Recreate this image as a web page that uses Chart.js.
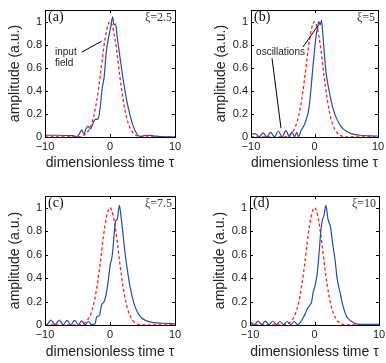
<!DOCTYPE html>
<html><head><meta charset="utf-8">
<script src="https://cdn.jsdelivr.net/npm/chart.js@4"></script>
<style>
html,body{margin:0;padding:0;background:#fff;overflow:hidden;width:386px;height:363px;position:relative;}
canvas{position:absolute;}
</style></head><body>
<canvas id="ca"></canvas><canvas id="cb"></canvas><canvas id="cc"></canvas><canvas id="cd"></canvas>
<script>
// ---- data ----
const xTicks = [-10, 0, 10];
const yTicks = [0, 0.2, 0.4, 0.6, 0.8, 1];
const xTitle = 'dimensionless time \u03c4';
const yTitle = 'amplitude (a.u.)';
const panelLabels = ['(a)', '(b)', '(c)', '(d)'];
const xiLabels = ['\u03be=2.5', '\u03be=5', '\u03be=7.5', '\u03be=10'];

// input field (red dashed), same in every panel
const inputX = [-10,-6,-5,-4.5,-4,-3.5,-3,-2.5,-2,-1.5,-1,-0.5,0,0.5,1,1.5,2,2.5,3,3.5,4,4.5,5,6,10];
const inputY = [0,0,0,0.004,0.015,0.04,0.09,0.18,0.33,0.53,0.76,0.93,1,0.93,0.76,0.53,0.33,0.18,0.09,0.04,0.015,0.004,0,0,0];

// output field (blue), xi = 2.5
const outAX = [-10,-8,-6,-5.5,-5.1,-4.7,-4.35,-4.0,-3.7,-3.4,-3.0,-2.6,-2.3,-1.8,-1.5,-1.2,-0.9,-0.6,-0.26,0.1,0.41,0.6,0.86,1.1,1.54,2.05,2.56,3.08,3.6,4.1,4.6,5.6,6.7,7.7,10];
const outAY = [0.015,0.015,0.012,0.01,0.0,0.03,0.06,0.025,0.07,0.095,0.07,0.12,0.15,0.16,0.26,0.42,0.52,0.72,0.85,0.95,1.04,0.97,0.98,0.87,0.69,0.49,0.32,0.19,0.09,0.03,0.005,0.015,0.01,0.003,0];
// xi = 5
const outBX = [-10,-9.35,-8.7,-8.1,-7.5,-6.9,-6.3,-5.7,-5.1,-4.5,-3.95,-3.55,-3.15,-2.8,-2.5,-2.1,-1.84,-1.3,-1.05,-0.8,-0.5,-0.26,0,0.26,0.5,0.68,0.9,1.1,1.3,1.58,1.84,2.37,2.9,3.4,4.2,5,6.05,7.1,8.7,10];
const outBY = [0.02,0.03,0.002,0.035,0.002,0.04,0.002,0.05,0.002,0.055,0.002,0.045,0.002,0.04,0.002,0.06,0.08,0.15,0.2,0.28,0.45,0.6,0.75,0.88,0.95,1.0,0.97,1.01,0.9,0.7,0.55,0.38,0.25,0.17,0.09,0.05,0.025,0.015,0.01,0.008];
// xi = 7.5
const outCX = [-10,-9.74,-9.1,-8.46,-7.82,-7.18,-6.6,-6.05,-5.45,-4.87,-4.36,-3.85,-3.33,-2.82,-2.3,-2.05,-1.64,-1.3,-0.9,-0.6,-0.26,0,0.36,0.6,0.87,1.1,1.44,1.64,1.95,2.3,2.67,3.08,3.6,4.2,4.87,5.64,6.67,8.2,10];
const outCY = [0.005,0.003,0.042,0.003,0.042,0.003,0.04,0.003,0.04,0.003,0.035,0.003,0.03,0.003,0.01,0.07,0.08,0.17,0.2,0.26,0.38,0.5,0.6,0.75,0.89,0.9,1.02,0.95,0.8,0.62,0.47,0.33,0.2,0.11,0.06,0.035,0.02,0.015,0.01];
// xi = 10
const outDX = [-10,-9.3,-8.75,-8.2,-7.62,-7.05,-6.48,-5.9,-5.35,-4.8,-4.25,-3.7,-3.15,-2.6,-2.1,-1.78,-1.4,-1.1,-0.7,-0.44,-0.2,0.05,0.4,0.72,0.98,1.24,1.45,1.76,2.1,2.5,2.8,3.2,3.5,3.95,4.47,5.0,5.76,6.5,7.6,10];
const outDY = [0.03,0.003,0.033,0.003,0.033,0.003,0.032,0.003,0.03,0.003,0.03,0.003,0.03,0.003,0.03,0.06,0.1,0.14,0.17,0.2,0.28,0.33,0.43,0.62,0.8,0.9,0.93,1.02,0.9,0.83,0.7,0.55,0.4,0.28,0.15,0.07,0.03,0.01,0.005,0.005];

// annotations (data coordinates)
const noteTextA = [['input', -8.46, 0.735], ['field', -8.46, 0.64]];
const noteLinesA = [[-4.35, 0.735, -1.28, 0.83]];
const noteTextB = [['oscillations', -9.2, 0.735]];
const noteLinesB = [[-1.8, 0.78, 0.55, 0.966], [-6.69, 0.68, -5.28, 0.078]];

// ---- layout ----
const panels = [
  {id:'ca', L:45,  R:175, T:10,  B:137, ch:180, tpad:8.6, ox:outAX, oy:outAY, nt:noteTextA, nl:noteLinesA},
  {id:'cb', L:251, R:378, T:10,  B:137, ch:180, tpad:8.6, ox:outBX, oy:outBY, nt:noteTextB, nl:noteLinesB},
  {id:'cc', L:45,  R:175, T:196, B:325, ch:177, tpad:2.6, ox:outCX, oy:outCY, nt:[], nl:[]},
  {id:'cd', L:250, R:379, T:196, B:325, ch:177, tpad:2.6, ox:outDX, oy:outDY, nt:[], nl:[]}
];
const CW = 193;
const toPts = (xs, ys) => xs.map((x, i) => ({x: x, y: ys[i]}));
const fmt = v => v < 0 ? '\u2212' + Math.abs(v) : String(v);

panels.forEach((p, idx) => {
  const cv = document.getElementById(p.id);
  const left = p.L - 45, top = p.T - 10;
  cv.width = CW; cv.height = p.ch;
  cv.style.left = left + 'px'; cv.style.top = top + 'px';
  cv.style.width = CW + 'px'; cv.style.height = p.ch + 'px';
  const padR = CW - (p.R - left);
  const xH = p.ch - (p.B - top);

  const deco = {
    id: 'deco' + idx,
    afterDraw(chart) {
      const ctx = chart.ctx, a = chart.chartArea;
      const xs = chart.scales.x, ys = chart.scales.y;
      ctx.save();
      ctx.strokeStyle = '#000'; ctx.lineWidth = 1;
      ctx.strokeRect(Math.round(a.left) + 0.5, Math.round(a.top) + 0.5, Math.round(a.right - a.left), Math.round(a.bottom - a.top));
      ctx.beginPath();
      yTicks.forEach(v => {
        const py = Math.round(ys.getPixelForValue(v)) + 0.5;
        ctx.moveTo(a.left, py); ctx.lineTo(a.left + 3, py);
        ctx.moveTo(a.right, py); ctx.lineTo(a.right - 3, py);
      });
      xTicks.forEach(v => {
        const px = Math.round(xs.getPixelForValue(v)) + 0.5;
        ctx.moveTo(px, a.bottom); ctx.lineTo(px, a.bottom - 3);
        ctx.moveTo(px, a.top); ctx.lineTo(px, a.top + 3);
      });
      ctx.stroke();
      // panel label and xi
      ctx.fillStyle = '#111';
      ctx.font = '14px "Liberation Serif", "DejaVu Serif", serif';
      ctx.textAlign = 'left'; ctx.textBaseline = 'middle';
      ctx.fillText(panelLabels[idx], a.left + 3, a.top + 7);
      ctx.font = '12px "Liberation Serif", "DejaVu Serif", serif';
      ctx.textAlign = 'right';
      ctx.fillStyle = '#333';
      ctx.fillText(xiLabels[idx], a.right - 3, a.top + 8);
      // annotations
      ctx.fillStyle = '#222';
      ctx.font = '10px "Liberation Sans", Arial, sans-serif';
      ctx.textAlign = 'left';
      p.nt.forEach(t => ctx.fillText(t[0], xs.getPixelForValue(t[1]), ys.getPixelForValue(t[2])));
      ctx.beginPath();
      p.nl.forEach(l => {
        ctx.moveTo(xs.getPixelForValue(l[0]), ys.getPixelForValue(l[1]));
        ctx.lineTo(xs.getPixelForValue(l[2]), ys.getPixelForValue(l[3]));
      });
      ctx.stroke();
      ctx.restore();
    }
  };

  new Chart(cv, {
    type: 'line',
    data: {
      datasets: [
        {data: toPts(inputX, inputY), borderColor: '#ff1a1a', borderWidth: 1.3, borderDash: [3, 2.5],
         pointRadius: 0, cubicInterpolationMode: 'monotone', clip: 3, order: 2},
        {data: toPts(p.ox, p.oy), borderColor: '#2a4c9e', borderWidth: 1.2,
         pointRadius: 0, cubicInterpolationMode: 'monotone', clip: 3, order: 1}
      ]
    },
    options: {
      responsive: false, animation: false, devicePixelRatio: 1,
      layout: {padding: {left: 0, top: 10, right: padR, bottom: 0}},
      plugins: {legend: {display: false}, tooltip: {enabled: false}},
      scales: {
        x: {
          type: 'linear', min: -10, max: 10,
          afterBuildTicks: s => { s.ticks = xTicks.map(v => ({value: v})); },
          afterFit: s => { s.height = xH; },
          grid: {display: false, drawTicks: false},
          border: {display: false},
          ticks: {callback: fmt, padding: 3, maxRotation: 0, autoSkip: false, color: '#222',
                  font: {family: '"Liberation Sans", Arial, sans-serif', size: 11}},
          title: {display: true, text: xTitle, color: '#222', padding: {top: 0, bottom: p.tpad},
                  font: {family: '"Liberation Sans", Arial, sans-serif', size: 14}}
        },
        y: {
          type: 'linear', min: 0, max: 1.1,
          afterBuildTicks: s => { s.ticks = yTicks.map(v => ({value: v})); },
          afterFit: s => { s.width = 45; },
          grid: {display: false, drawTicks: false},
          border: {display: false},
          ticks: {callback: fmt, padding: 3, autoSkip: false, color: '#222',
                  font: {family: '"Liberation Sans", Arial, sans-serif', size: 11}},
          title: {display: true, text: yTitle, color: '#222', padding: {top: 6.6, bottom: 0},
                  font: {family: '"Liberation Sans", Arial, sans-serif', size: 14}}
        }
      }
    },
    plugins: [deco]
  });
});
</script>
</body></html>
